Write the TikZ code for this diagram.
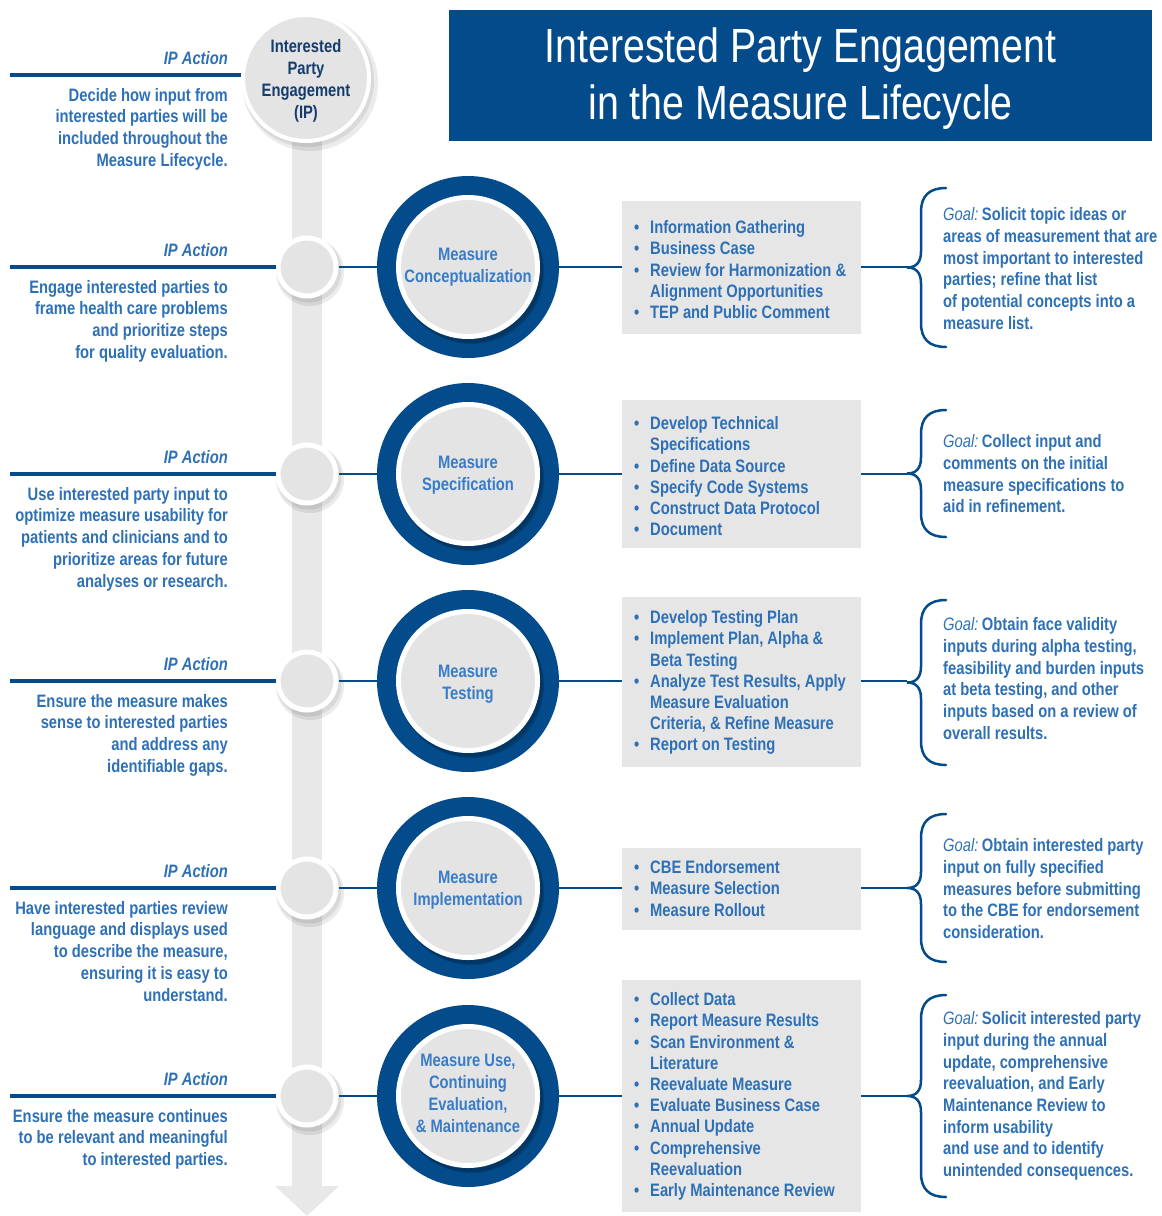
\documentclass[tikz,border=0pt]{standalone}
\usepackage{fontspec}
\setmainfont{Liberation Sans}[FakeStretch=0.82]
\usetikzlibrary{calc}
\definecolor{dkblue}{RGB}{3,75,138}
\definecolor{txtblue}{RGB}{46,112,182}
\definecolor{lblblue}{RGB}{56,124,200}
\definecolor{navy}{RGB}{20,60,108}
\definecolor{cgray}{RGB}{228,228,228}
\definecolor{boxgray}{RGB}{230,230,230}
\definecolor{bargray}{RGB}{232,232,232}
\newcommand\bul[1]{\makebox[16pt][l]{\textbullet}#1}
\newcommand\cnt[1]{\hspace*{16pt}#1}
\newcommand\goal{{\mdseries\itshape Goal:}\hspace{3.5pt}}
\newcommand\mybrace[2]{%
  \draw[brace] (946,{#1-#2}) .. controls (929,{#1-#2}) and (921,{#1-#2+8}) .. (921,{#1-#2+24})
    -- (921,{#1-16}) .. controls (921,{#1-5}) and (916,{#1}) .. (907,{#1})
    .. controls (916,{#1}) and (921,{#1+5}) .. (921,{#1+16})
    -- (921,{#1+#2-24}) .. controls (921,{#1+#2-8}) and (929,{#1+#2}) .. (946,{#1+#2});}
\begin{document}
\begin{tikzpicture}[x=1pt,y=-1pt,
  lefttxt/.style={anchor=north east, align=right, inner sep=0, text=txtblue, font=\fontsize{18}{21.7}\selectfont\bfseries},
  ipact/.style={anchor=north east, inner sep=0, text=txtblue, font=\fontsize{18}{21.7}\selectfont\bfseries\itshape},
  goaltxt/.style={anchor=north west, align=left, inner sep=0, text=txtblue, font=\fontsize{18}{21.7}\selectfont\bfseries},
  listtxt/.style={anchor=north west, align=left, inner sep=0, text=txtblue, font=\fontsize{18}{21.2}\selectfont\bfseries},
  circtxt/.style={anchor=north, align=center, inner sep=0, text=lblblue, font=\fontsize{18}{22}\selectfont\bfseries},
  listbox/.style={rectangle, fill=boxgray, minimum width=239pt, inner sep=0},
  smallc/.style={circle, fill=cgray, draw=white, line width=5pt, minimum size=58pt, inner sep=0},
  bigc/.style={circle, fill=dkblue, minimum size=182pt, inner sep=0},
  innerc/.style={circle, fill=cgray, draw=white, line width=5pt, minimum size=139pt, inner sep=0},
  lead/.style={draw=dkblue, line width=4.5pt},
  thin/.style={draw=dkblue, line width=2pt},
  conn/.style={draw=dkblue, line width=2.5pt},
  brace/.style={draw=dkblue, line width=2.5pt, line cap=round},
  shade/.style={fill=black, opacity=0.08}
]
\useasboundingbox (0,0) rectangle (1162,1216);

% title
\node[rectangle, fill=dkblue, minimum width=703pt, minimum height=131pt, inner sep=0] (title) at (800.5,75.5) {};
\node[anchor=north, align=center, inner sep=0, text=white, font=\fontsize{48}{57}\selectfont] (titletxt) at (800.5,27.5)
  {Interested Party Engagement\\in the Measure Lifecycle};

% timeline bar and arrow
\fill[bargray] (292,120) rectangle (322,1187);
\fill[bargray] (275,1186) -- (339,1186) -- (307,1216) -- cycle;

% top circle
\fill[shade] (310,83) circle[radius=68pt];
\fill[shade] (308,81) circle[radius=66pt];
\node[circle, fill=cgray, draw=white, line width=4pt, minimum size=126pt, inner sep=0] (ip) at (306,78) {};
\node[anchor=north, align=center, inner sep=0, text=navy, font=\fontsize{18}{22}\selectfont\bfseries] (iptxt) at (306,39.5)
  {Interested\\Party\\Engagement\\(IP)};
\coordinate (l0) at (10,75);
\draw[lead] (l0) -- (ip.west |- l0);
\node[ipact] (ipa0) at (228,51.5) {IP Action};
\node[lefttxt] (act0) at (228,88) {Decide how input from\\interested parties will be\\included throughout the\\Measure Lifecycle.};

% rows
\foreach \i/\y in {1/267, 2/474, 3/681, 4/888, 5/1096} {
  \fill[shade] (310,\y+5) circle[radius=34pt];
  \fill[shade] (309,\y+3) circle[radius=32.5pt];
  \node[smallc] (s\i) at (307,\y) {};
  \node[bigc] (c\i) at (468,\y) {};
  \fill[black, opacity=0.14] (470,\y+3) circle[radius=73pt];
  \fill[black, opacity=0.14] (472,\y+5) circle[radius=72pt];
  \node[innerc] (ci\i) at (468,\y) {};
  \coordinate (l\i) at (10,\y);
  \coordinate (t\i) at (907,\y);
  \draw[lead] (l\i) -- (s\i);
  \draw[thin] (s\i) -- (c\i);
}
\node[listbox, minimum height=133pt] (b1) at (741.5,267.5) {};
\node[listbox, minimum height=148pt] (b2) at (741.5,474) {};
\node[listbox, minimum height=170pt] (b3) at (741.5,682) {};
\node[listbox, minimum height=82pt] (b4) at (741.5,889) {};
\node[listbox, minimum height=232pt] (b5) at (741.5,1096) {};
\foreach \i in {1,...,5} {
  \draw[conn] (c\i) -- (b\i.west |- t\i);
  \draw[conn] (b\i.east |- t\i) -- (t\i);
}

% braces
\mybrace{267.5}{79.5}
\mybrace{473.5}{63.5}
\mybrace{682.5}{82.5}
\mybrace{888}{74}
\mybrace{1096}{101}

% circle labels
\node[circtxt] (lab1) at (468,247.5) {Measure\\Conceptualization};
\node[circtxt] (lab2) at (468,455.5) {Measure\\Specification};
\node[circtxt] (lab3) at (468,664.5) {Measure\\Testing};
\node[circtxt] (lab4) at (468,870.5) {Measure\\Implementation};
\node[circtxt] (lab5) at (468,1053.5) {Measure Use,\\Continuing\\Evaluation,\\\& Maintenance};

% IP actions
\node[ipact] (ipa1) at (228,243) {IP Action};
\node[ipact] (ipa2) at (228,450) {IP Action};
\node[ipact] (ipa3) at (228,657) {IP Action};
\node[ipact] (ipa4) at (228,864) {IP Action};
\node[ipact] (ipa5) at (228,1072) {IP Action};
\node[lefttxt] (act1) at (228,280) {Engage interested parties to\\frame health care problems\\and prioritize steps\\for quality evaluation.};
\node[lefttxt] (act2) at (228,487) {Use interested party input to\\optimize measure usability for\\patients and clinicians and to\\prioritize areas for future\\analyses or research.};
\node[lefttxt] (act3) at (228,694) {Ensure the measure makes\\sense to interested parties\\and address any\\identifiable gaps.};
\node[lefttxt] (act4) at (228,901) {Have interested parties review\\language and displays used\\to describe the measure,\\ensuring it is easy to\\understand.};
\node[lefttxt] (act5) at (228,1109) {Ensure the measure continues\\to be relevant and meaningful\\to interested parties.};

% lists
\node[listtxt] (li1) at (634,220.5) {\bul{Information Gathering}\\\bul{Business Case}\\\bul{Review for Harmonization \&}\\\cnt{Alignment Opportunities}\\\bul{TEP and Public Comment}};
\node[listtxt] (li2) at (634,416.5) {\bul{Develop Technical}\\\cnt{Specifications}\\\bul{Define Data Source}\\\bul{Specify Code Systems}\\\bul{Construct Data Protocol}\\\bul{Document}};
\node[listtxt] (li3) at (634,610.5) {\bul{Develop Testing Plan}\\\bul{Implement Plan, Alpha \&}\\\cnt{Beta Testing}\\\bul{Analyze Test Results, Apply}\\\cnt{Measure Evaluation}\\\cnt{Criteria, \& Refine Measure}\\\bul{Report on Testing}};
\node[listtxt] (li4) at (634,860.5) {\bul{CBE Endorsement}\\\bul{Measure Selection}\\\bul{Measure Rollout}};
\node[listtxt] (li5) at (634,992.5) {\bul{Collect Data}\\\bul{Report Measure Results}\\\bul{Scan Environment \&}\\\cnt{Literature}\\\bul{Reevaluate Measure}\\\bul{Evaluate Business Case}\\\bul{Annual Update}\\\bul{Comprehensive}\\\cnt{Reevaluation}\\\bul{Early Maintenance Review}};

% goals
\node[goaltxt] (g1) at (943,207.5) {\goal Solicit topic ideas or\\areas of measurement that are\\most important to interested\\parties; refine that list\\of potential concepts into a\\measure list.};
\node[goaltxt] (g2) at (943,434.5) {\goal Collect input and\\comments on the initial\\measure specifications to\\aid in refinement.};
\node[goaltxt] (g3) at (943,617.5) {\goal Obtain face validity\\inputs during alpha testing,\\feasibility and burden inputs\\at beta testing, and other\\inputs based on a review of\\overall results.};
\node[goaltxt] (g4) at (943,838.5) {\goal Obtain interested party\\input on fully specified\\measures before submitting\\to the CBE for endorsement\\consideration.};
\node[goaltxt] (g5) at (943,1011.5) {\goal Solicit interested party\\input during the annual\\update, comprehensive\\reevaluation, and Early\\Maintenance Review to\\inform usability\\and use and to identify\\unintended consequences.};
\end{tikzpicture}
\end{document}
